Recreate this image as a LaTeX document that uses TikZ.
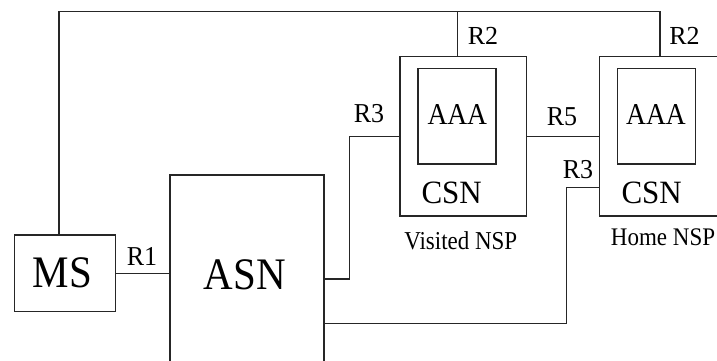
\documentclass[tikz,border=0pt]{standalone}
\usepackage{fontspec}
\usepackage{graphicx}
\setmainfont{Liberation Serif}
\newcommand\vstretch[2]{\scalebox{1}[#1]{#2}}
\begin{document}
\begin{tikzpicture}[x=1pt,y=-1pt,
  wire/.style={draw=black!85,line width=1.1pt},
  box/.style={draw=black!85,line width=1.1pt,rectangle,inner sep=0pt},
  txt/.style={inner sep=0pt,text=black},
  big/.style={txt,font=\fontsize{41}{41}\selectfont},
  mid/.style={txt,font=\fontsize{31}{31}\selectfont},
  aaa/.style={txt,font=\fontsize{27.5}{27.5}\selectfont},
  rl/.style={txt,font=\fontsize{26}{26}\selectfont},
  nsp/.style={txt,font=\fontsize{23}{23}\selectfont}]
\useasboundingbox (0,0) rectangle (717,361);
\clip (0,0) rectangle (717,361);
\fill[white] (0,0) rectangle (717,361);
% boxes
\node[box,minimum width=101pt,minimum height=76.5pt] (MS) at (65,273.25) {};
\node[box,minimum width=154pt,minimum height=205pt] (ASN) at (247,277.5) {};
\node[box,minimum width=126.3pt,minimum height=159.3pt] (vCSN) at (463.15,136.35) {};
\node[box,minimum width=78pt,minimum height=95.7pt] (vAAA) at (457,116.15) {};
\node[box,minimum width=127pt,minimum height=159.3pt] (hCSN) at (662.8,136.35) {};
\node[box,minimum width=78pt,minimum height=95.7pt] (hAAA) at (656.7,116.15) {};
% texts
\node[big] (tMS) at (62.5,273) {\vstretch{1.1}{MS}};
\node[big] (tASN) at (245,275) {\vstretch{1.1}{ASN}};
\node[aaa] (tvAAA) at (457.3,115) {\vstretch{1.1}{AAA}};
\node[aaa] (thAAA) at (656,115) {\vstretch{1.1}{AAA}};
\node[mid] (tvCSN) at (451.7,192.5) {\vstretch{1.05}{CSN}};
\node[mid] (thCSN) at (651.7,192.5) {\vstretch{1.05}{CSN}};
\node[nsp] (vNSP) at (460.8,241) {\vstretch{1.12}{Visited NSP}};
\node[nsp] (hNSP) at (663,237) {\vstretch{1.1}{Home NSP}};
\node[rl] (lR1) at (142,256.5) {\vstretch{1.05}{R1}};
\node[rl] (lR2a) at (483,35.5) {R2};
\node[rl] (lR2b) at (684.5,35.5) {R2};
\node[rl] (lR3a) at (369,114) {\vstretch{1.05}{R3}};
\node[rl] (lR5) at (562,116.7) {\vstretch{1.05}{R5}};
\node[rl] (lR3b) at (578,170) {\vstretch{1.05}{R3}};
% connectors
\coordinate (busL) at (59,11.5);
\coordinate (busV) at (457.7,11.5);
\coordinate (busR) at (660,11.5);
\coordinate (k) at (566.3,187.3);
\draw[wire] (busL |- MS.north) -- (busL) -- (busR) -- (busR |- hCSN.north);
\draw[wire] (busV) -- (busV |- vCSN.north);
\draw[wire] (MS.east) -- (MS.east -| ASN.west);
\draw[wire] (ASN.east) ++(0,1.5) -- ++(25,0) |- (vCSN.west);
\draw[wire] (vCSN.east) -- (hCSN.west);
\draw[wire] (ASN.east) ++(0,45.8) -| (k) -- (k -| hCSN.west);
\end{tikzpicture}
\end{document}
